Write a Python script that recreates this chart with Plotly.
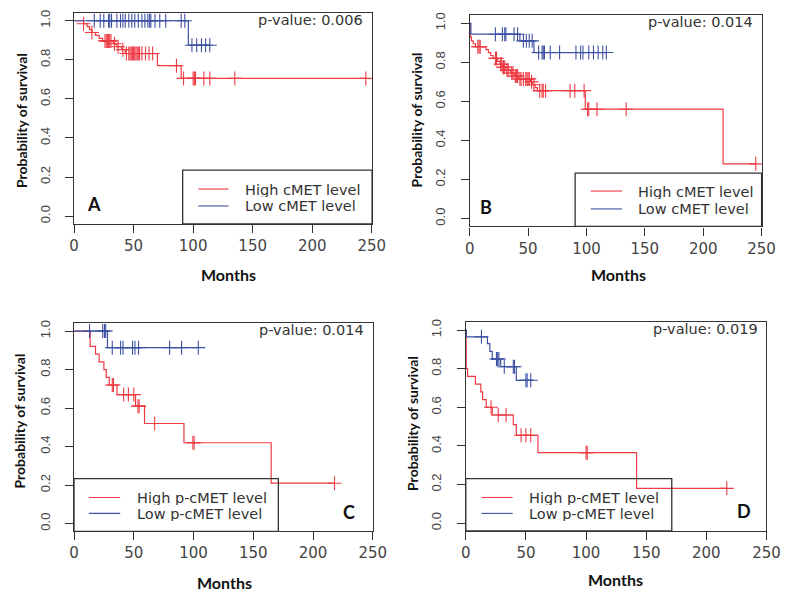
import numpy as np
import plotly.graph_objects as go

W, H = 800, 594

# ---------------- data (months, survival probability) ----------------
X_TICKS = [0, 50, 100, 150, 200, 250]
X_TICK_TEXT = ["0", "50", "100", "150", "200", "250"]
Y_TICKS = [0.0, 0.2, 0.4, 0.6, 0.8, 1.0]
Y_TICK_TEXT = ["0.0", "0.2", "0.4", "0.6", "0.8", "1.0"]

PANEL_LETTERS = ["A", "B", "C", "D"]
P_VALUES = ["p-value: 0.006", "p-value: 0.014", "p-value: 0.014", "p-value: 0.019"]
LEGEND_HIGH = ["High cMET level", "High cMET level", "High p-cMET level", "High p-cMET level"]
LEGEND_LOW = ["Low cMET level", "Low cMET level", "Low p-cMET level", "Low p-cMET level"]

# Panel A
A_HIGH_EVENT_T = [8, 11, 13, 15, 18, 21, 24, 33, 36, 40, 43, 70, 90]
A_HIGH_EVENT_S = [0.985, 0.97, 0.955, 0.94, 0.925, 0.91, 0.897, 0.882, 0.867, 0.852, 0.832, 0.77, 0.705]
A_HIGH_CENSOR = [8, 15, 26, 27, 28, 29, 30, 31, 34, 37, 41, 44, 46, 47, 48, 49, 50, 51, 52, 53, 54,
                 55, 57, 60, 63, 66, 86, 92, 100, 101, 102, 109, 114, 135, 245]
A_LOW_EVENT_T = [96]
A_LOW_EVENT_S = [0.875]
A_LOW_CENSOR = [17, 22, 25, 29, 30, 31.5, 36, 39, 41, 43, 46, 48.5, 51, 54, 57, 59.5, 62, 63.5,
                64.5, 68, 72, 77, 90, 93, 99, 103, 107, 110.5, 114]

# Panel B
B_HIGH_EVENT_T = [0.5, 1.5, 3, 5, 14, 16, 18, 20, 24, 26, 28, 31, 35, 38, 42, 52, 54, 56, 58, 99, 217]
B_HIGH_EVENT_S = [0.93, 0.91, 0.895, 0.88, 0.865, 0.85, 0.835, 0.82, 0.805, 0.79, 0.775, 0.76, 0.745,
                  0.73, 0.715, 0.70, 0.685, 0.67, 0.655, 0.56, 0.28]
B_HIGH_CENSOR = [7, 8, 9, 22, 23, 26.5, 27, 28.5, 29, 30, 32, 33, 36, 37, 39, 40, 41, 43, 44, 46, 48,
                 49, 50, 51, 53, 55, 60, 62, 63, 65, 86, 90, 98, 101, 102, 109, 134, 245]
B_LOW_EVENT_T = [1, 43, 55]
B_LOW_EVENT_S = [0.944, 0.91, 0.85]
B_LOW_CENSOR = [22, 28, 30, 31, 38, 41, 46, 48.5, 51, 53.5, 59, 62, 63, 64, 69, 77, 91, 95, 97,
                102, 106, 110, 114, 117]

# Panel C
C_HIGH_EVENT_T = [13.5, 18, 21, 25, 27, 29.5, 36, 51.5, 59, 92, 165]
C_HIGH_EVENT_S = [0.92, 0.88, 0.84, 0.80, 0.76, 0.72, 0.67, 0.61, 0.52, 0.42, 0.21]
C_HIGH_CENSOR = [32, 33, 41.5, 45.5, 50, 53.5, 54.5, 67.5, 99.5, 100.5, 218]
C_LOW_EVENT_T = [28]
C_LOW_EVENT_S = [0.914]
C_LOW_CENSOR = [13, 24, 25.5, 26.5, 32, 39, 41, 49, 51, 54, 80, 90, 104]

# Panel D
D_HIGH_EVENT_T = [0.3, 1.5, 8, 12.5, 14, 17, 22, 39.5, 42, 60, 142]
D_HIGH_EVENT_S = [0.80, 0.76, 0.72, 0.68, 0.64, 0.60, 0.56, 0.51, 0.455, 0.365, 0.18]
D_HIGH_CENSOR = [21, 27, 33.5, 46, 50, 54, 100, 101, 217]
D_LOW_EVENT_T = [0.5, 18, 20, 22, 29, 42]
D_LOW_EVENT_S = [0.965, 0.93, 0.89, 0.85, 0.81, 0.74]
D_LOW_CENSOR = [13, 25.5, 26.5, 27.5, 32, 39.5, 40.5, 50, 51, 54]

PANELS = [
    (A_HIGH_EVENT_T, A_HIGH_EVENT_S, A_HIGH_CENSOR, A_LOW_EVENT_T, A_LOW_EVENT_S, A_LOW_CENSOR),
    (B_HIGH_EVENT_T, B_HIGH_EVENT_S, B_HIGH_CENSOR, B_LOW_EVENT_T, B_LOW_EVENT_S, B_LOW_CENSOR),
    (C_HIGH_EVENT_T, C_HIGH_EVENT_S, C_HIGH_CENSOR, C_LOW_EVENT_T, C_LOW_EVENT_S, C_LOW_CENSOR),
    (D_HIGH_EVENT_T, D_HIGH_EVENT_S, D_HIGH_CENSOR, D_LOW_EVENT_T, D_LOW_EVENT_S, D_LOW_CENSOR),
]

# ---------------- layout geometry (pixels) ----------------
BOXES = [(70.7, 375.7, 10.0, 222.0),
         (476.0, 775.0, 12.5, 224.5),
         (70.7, 376.7, 322.0, 531.0),
         (472.0, 780.0, 321.0, 530.5)]
LEGEND_BOX = [(182, 376, 168, 222), (584, 775, 171, 224.5), (70.7, 280, 478, 531), (472, 683, 478, 530.5)]
LEGEND_LINE_X = [(198, 229), (600, 632), (86, 118), (488, 520)]
LEGEND_LINE_Y = [(187, 204), (189, 207), (497, 513), (497, 513)]
LEGEND_TEXT_X = [244, 646, 133, 535]
LETTER_POS = [(91, 202), (493, 205), (352, 512), (757, 511)]
PVAL_POS = [(369, 17), (768, 19), (370, 329), (773, 328)]
MONTHS_POS = [(229, 273), (628, 273), (225, 582), (625, 579)]
YTITLE_POS = [(17, 118), (421, 118), (15, 420), (418, 423)]

RED = "#ee3a43"
BLUE = "#3d51a3"
DARK = "#333333"
Y_RANGE = [-0.04, 1.04]


def px(x):
    return x / W


def py(y):
    return 1 - y / H


def km_path(ev_t, ev_s, cens):
    end = max(list(ev_t) + list(cens))
    xs = [0.0] + list(ev_t) + [end]
    ys = [1.0] + list(ev_s) + [ev_s[-1]]
    ev_t_arr = np.array(ev_t)
    ev_s_arr = np.array(ev_s)
    cy = []
    for c in cens:
        idx = np.searchsorted(ev_t_arr, c, side="right") - 1
        cy.append(1.0 if idx < 0 else float(ev_s_arr[idx]))
    return xs, ys, list(cens), cy


fig = go.Figure()
annotations = []
shapes = []

for i, (ht, hs, hc, lt, ls, lc) in enumerate(PANELS):
    n = "" if i == 0 else str(i + 1)
    xa, ya = "x" + n, "y" + n
    for (et, es, ec, col) in [(ht, hs, hc, RED), (lt, ls, lc, BLUE)]:
        xs, ys, cx, cy = km_path(et, es, ec)
        fig.add_trace(go.Scatter(x=xs, y=ys, mode="lines", line=dict(color=col, width=1.2, shape="hv"),
                                 xaxis=xa, yaxis=ya, showlegend=False, hoverinfo="skip"))
        fig.add_trace(go.Scatter(x=cx, y=cy, mode="markers",
                                 marker=dict(symbol="cross-thin", size=10, line=dict(color=col, width=1.1)),
                                 xaxis=xa, yaxis=ya, showlegend=False, hoverinfo="skip"))

    l, r, t, b = BOXES[i]
    axcommon = dict(showline=True, linecolor=DARK, linewidth=1.3, mirror=True, showgrid=False,
                    zeroline=False, ticks="outside", ticklen=8, tickwidth=1.2, tickcolor=DARK)
    fig.update_layout(**{
        "xaxis" + n: dict(domain=[px(l), px(r)], range=[0, 250], anchor=ya, tickvals=X_TICKS,
                          ticktext=X_TICK_TEXT, tickfont=dict(family="DejaVu Sans", size=15, color="#444"),
                          ticklabelstandoff=0, **axcommon),
        "yaxis" + n: dict(domain=[py(b), py(t)], range=Y_RANGE, anchor=xa, tickvals=Y_TICKS,
                          ticktext=Y_TICK_TEXT, tickangle=-90,
                          tickfont=dict(family="Liberation Sans", size=13, color="#444"),
                          ticklabelstandoff=10, **axcommon),
    })

    lb = LEGEND_BOX[i]
    shapes.append(dict(type="rect", xref="paper", yref="paper", x0=px(lb[0]), x1=px(lb[1]),
                       y0=py(lb[3]), y1=py(lb[2]), line=dict(color=DARK, width=1.3)))
    for yy, col, txt in [(LEGEND_LINE_Y[i][0], RED, LEGEND_HIGH[i]), (LEGEND_LINE_Y[i][1], BLUE, LEGEND_LOW[i])]:
        shapes.append(dict(type="line", xref="paper", yref="paper", x0=px(LEGEND_LINE_X[i][0]),
                           x1=px(LEGEND_LINE_X[i][1]), y0=py(yy), y1=py(yy), line=dict(color=col, width=1.1)))
        annotations.append(dict(xref="paper", yref="paper", x=px(LEGEND_TEXT_X[i]), y=py(yy), text=txt,
                                showarrow=False, xanchor="left", yanchor="middle", height=15,
                                font=dict(family="DejaVu Sans", size=14.5, color=DARK)))
    annotations.append(dict(xref="paper", yref="paper", x=px(LETTER_POS[i][0]), y=py(LETTER_POS[i][1]),
                            text="<b>%s</b>" % PANEL_LETTERS[i], showarrow=False, xanchor="center",
                            yanchor="middle", font=dict(family="Lato", size=18, color="#111")))
    annotations.append(dict(xref="paper", yref="paper", x=px(PVAL_POS[i][0]), y=py(PVAL_POS[i][1]),
                            text=P_VALUES[i], showarrow=False, xanchor="right", yanchor="middle",
                            font=dict(family="DejaVu Sans", size=14.5, color=DARK)))
    annotations.append(dict(xref="paper", yref="paper", x=px(MONTHS_POS[i][0]), y=py(MONTHS_POS[i][1]),
                            text="<b>Months</b>", showarrow=False, xanchor="center", yanchor="middle",
                            font=dict(family="Lato", size=16, color="#111")))
    annotations.append(dict(xref="paper", yref="paper", x=px(YTITLE_POS[i][0]), y=py(YTITLE_POS[i][1]),
                            text="<b>Probability of survival</b>", showarrow=False, xanchor="center",
                            yanchor="middle", textangle=-90,
                            font=dict(family="Lato", size=14, color="#111")))

fig.update_layout(width=W, height=H, margin=dict(l=0, r=0, t=0, b=0), paper_bgcolor="white",
                  plot_bgcolor="white", annotations=annotations, shapes=shapes, showlegend=False)

fig.write_html("out.html", config={"displayModeBar": False},
               post_script="document.body.style.margin='0';document.body.style.overflow='hidden';")
